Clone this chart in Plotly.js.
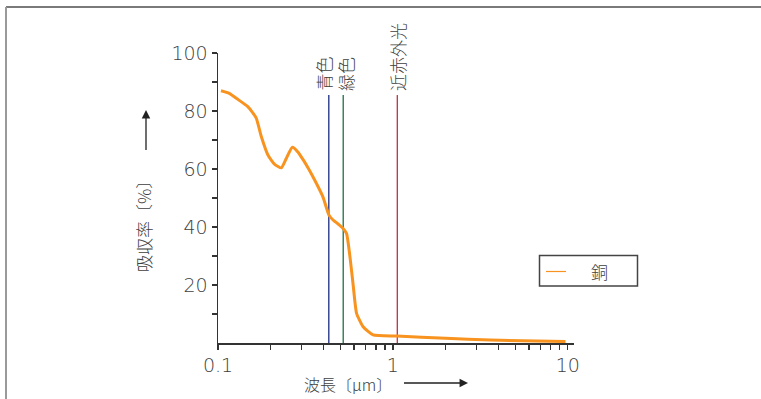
<!DOCTYPE html>
<html>
<head>
<meta charset="utf-8">
<script src="https://cdn.plot.ly/plotly-3.0.1.min.js"></script>
<style>html,body{margin:0;padding:0;background:#fff;}#chart{width:761px;height:399px;}</style>
</head>
<body>
<div id="chart"></div>
<script>
// Absorption of copper vs wavelength
const seriesName = '銅';
const wavelength = [0.104, 0.116, 0.130, 0.148, 0.165, 0.177, 0.193, 0.211, 0.230, 0.246, 0.266, 0.287, 0.306, 0.330, 0.357, 0.398, 0.431, 0.455, 0.476, 0.519, 0.543, 0.568, 0.594, 0.620, 0.676, 0.770, 1.05, 2.0, 3.6, 9.7];
const absorption = [87.0, 86.1, 84.0, 81.5, 77.7, 71.1, 64.8, 61.6, 60.4, 63.7, 67.5, 65.8, 63.3, 60.0, 56.2, 50.4, 44.1, 42.4, 41.5, 39.5, 37.8, 29.8, 19.4, 10.2, 5.6, 2.8, 2.4, 1.6, 1.0, 0.5];

const markerNames = ['青色', '緑色', '近赤外光'];
const markerWavelengths = [0.43, 0.52, 1.06];
const markerTop = 85.5;

const xTickVals = [0.1, 0.2, 0.3, 0.4, 0.5, 0.6, 0.7, 0.8, 0.9, 1, 2, 3, 4, 5, 6, 7, 8, 9, 10];
const xTickText = ['0.1', '', '', '', '', '', '', '', '', '1', '', '', '', '', '', '', '', '', '10'];
const yTickVals = [10, 20, 30, 40, 50, 60, 70, 80, 90, 100];
const yTickText = ['', '20', '', '40', '', '60', '', '80', '', '100'];

const xTitle = '波長〔μm〕';
const yTitle = '吸収率〔%〕';

const FONT = '"Noto Sans CJK JP", "Noto Sans", sans-serif';
const NUMFONT = '"DejaVu Sans", "Noto Sans", sans-serif';
const TXT = '#404040';
const markerColors = ['#2b3a8c', '#2f7a55', '#c23a4a'];
const xLabelShift = [-5, 2, 0];

const traces = [];
markerWavelengths.forEach((w, i) => {
  traces.push({
    x: [w, w], y: [0, markerTop], mode: 'lines', type: 'scatter',
    line: {color: markerColors[i], width: 1.4}, showlegend: false, hoverinfo: 'skip', name: markerNames[i]
  });
});
traces.push({
  x: wavelength, y: absorption, mode: 'lines', type: 'scatter', name: seriesName,
  line: {color: '#f7931e', width: 3, shape: 'spline', smoothing: 0.5}, showlegend: false
});

// pixel helpers for paper coords
const L = 218, R = 187, T = 53, B = 56;
const PW = 761 - L - R, PH = 399 - T - B;
const px = v => (v - L) / PW;
const py = v => (399 - B - v) / PH;

const annotations = markerWavelengths.map((w, i) => ({
  x: Math.log10(w), y: 86.3, xref: 'x', yref: 'y', text: markerNames[i], textangle: -90,
  showarrow: false, xanchor: 'center', yanchor: 'bottom', xshift: xLabelShift[i],
  font: {family: FONT, size: 17, color: TXT, weight: 300}
}));
annotations.push(
  {x: px(144), y: py(222), xref: 'paper', yref: 'paper', text: yTitle, textangle: -90, showarrow: false,
   xanchor: 'center', yanchor: 'middle', font: {family: FONT, size: 17, color: TXT, weight: 300}},
  {x: px(146), y: py(110), xref: 'paper', yref: 'paper', text: ' ', showarrow: true, ax: 0, ay: 50,
   arrowhead: 2, arrowsize: 1.3, arrowwidth: 1.3, arrowcolor: '#222', standoff: 0},
  {x: px(348), y: py(384), xref: 'paper', yref: 'paper', text: xTitle, showarrow: false, borderpad: 0,
   xanchor: 'center', yanchor: 'middle', font: {family: FONT, size: 16, color: TXT, weight: 300}},
  {x: px(468), y: py(383), xref: 'paper', yref: 'paper', text: ' ', showarrow: true, ax: -67, ay: 0,
   arrowhead: 2, arrowsize: 1.3, arrowwidth: 1.3, arrowcolor: '#222', standoff: 0},
  {x: px(599), y: py(271), xref: 'paper', yref: 'paper', text: seriesName, showarrow: false,
   xanchor: 'center', yanchor: 'middle', font: {family: FONT, size: 17, color: TXT, weight: 300}}
);

const shapes = [
  {type: 'line', xref: 'paper', yref: 'paper', x0: px(6), x1: px(770), y0: py(7), y1: py(7), line: {color: '#7a7a7a', width: 2}},
  {type: 'line', xref: 'paper', yref: 'paper', x0: px(6), x1: px(6), y0: py(7), y1: py(410), line: {color: '#9a9a9a', width: 2}},
  {type: 'rect', xref: 'paper', yref: 'paper', x0: px(539.5), x1: px(637.5), y0: py(286), y1: py(255.5), line: {color: '#444', width: 1.5}, fillcolor: 'rgba(0,0,0,0)'},
  {type: 'line', xref: 'paper', yref: 'paper', x0: px(546), x1: px(566), y0: py(271.5), y1: py(271.5), line: {color: '#f7931e', width: 1.2}}
];

const layout = {
  width: 761, height: 399,
  margin: {l: L, r: R, t: T, b: B, pad: 0},
  paper_bgcolor: '#fff', plot_bgcolor: '#fff',
  showlegend: false,
  font: {family: FONT, color: TXT},
  xaxis: {
    type: 'log', range: [-1, Math.log10(10.85)], tickmode: 'array', tickvals: xTickVals, ticktext: xTickText,
    ticks: 'outside', ticklen: 5, tickwidth: 1.3, tickcolor: '#333', showline: true, linecolor: '#333', linewidth: 1.5,
    showgrid: false, zeroline: false, tickfont: {family: NUMFONT, size: 19, color: TXT, weight: 200}
  },
  yaxis: {
    range: [0, 100], tickmode: 'array', tickvals: yTickVals, ticktext: yTickText,
    ticks: 'outside', ticklen: 5, tickwidth: 1.3, tickcolor: '#333', showline: true, linecolor: '#333', linewidth: 1.5,
    showgrid: false, zeroline: false, tickfont: {family: NUMFONT, size: 19, color: TXT, weight: 200}
  },
  annotations: annotations,
  shapes: shapes
};

Plotly.newPlot('chart', traces, layout, {staticPlot: true, displayModeBar: false});
</script>
</body>
</html>
